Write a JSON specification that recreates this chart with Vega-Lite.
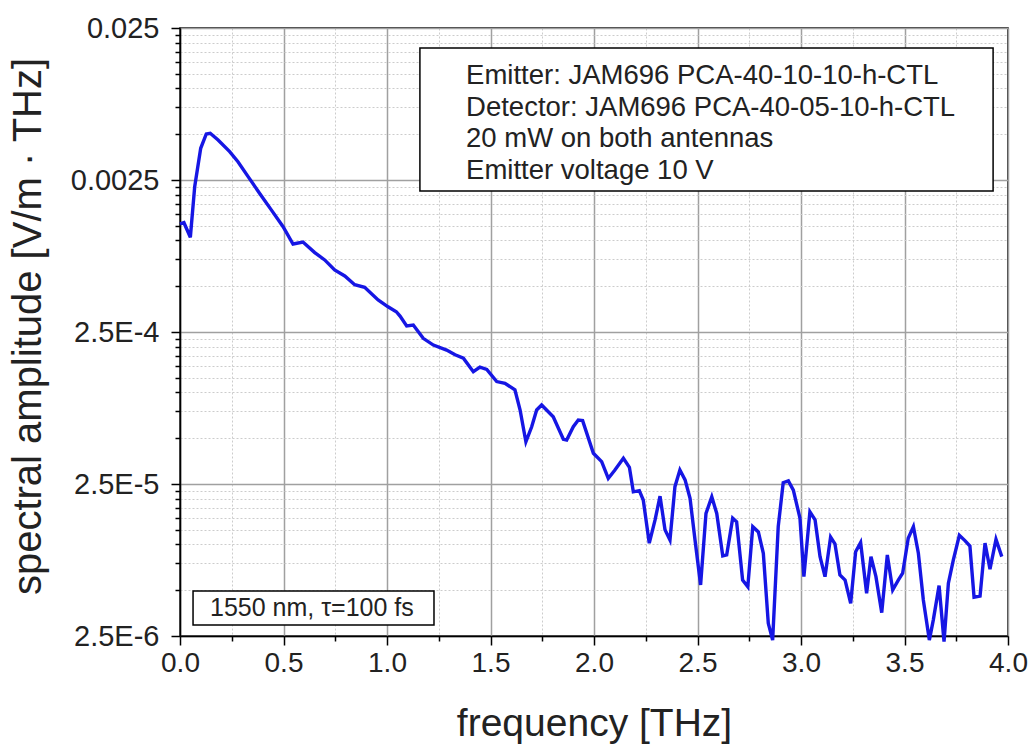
{
  "$schema": "https://vega.github.io/schema/vega-lite/v6.json",
  "width": 828,
  "height": 608,
  "autosize": "none",
  "padding": {"left": 180, "top": 28, "right": 25, "bottom": 111},
  "background": "white",
  "config": {
    "view": {"stroke": "black", "strokeWidth": 1.5},
    "font": "Liberation Sans"
  },
  "datasets": {
    "spectrum": [
      {"f": 0.0, "a": 0.001284}, {"f": 0.019, "a": 0.001309}, {"f": 0.05, "a": 0.00105}, {"f": 0.071, "a": 0.00226},
      {"f": 0.1, "a": 0.00404}, {"f": 0.127, "a": 0.00502}, {"f": 0.146, "a": 0.00507}, {"f": 0.184, "a": 0.00458},
      {"f": 0.24, "a": 0.00384}, {"f": 0.28, "a": 0.0033}, {"f": 0.329, "a": 0.00263}, {"f": 0.385, "a": 0.00204},
      {"f": 0.441, "a": 0.00159}, {"f": 0.498, "a": 0.001233}, {"f": 0.546, "a": 0.000948}, {"f": 0.594, "a": 0.000977},
      {"f": 0.651, "a": 0.000832}, {"f": 0.699, "a": 0.000745}, {"f": 0.747, "a": 0.00064}, {"f": 0.796, "a": 0.000584},
      {"f": 0.844, "a": 0.000512}, {"f": 0.892, "a": 0.000492}, {"f": 0.957, "a": 0.000406}, {"f": 1.005, "a": 0.000366},
      {"f": 1.045, "a": 0.00034}, {"f": 1.063, "a": 0.000318}, {"f": 1.095, "a": 0.000274}, {"f": 1.127, "a": 0.000278},
      {"f": 1.175, "a": 0.000227}, {"f": 1.224, "a": 0.000205}, {"f": 1.288, "a": 0.00019}, {"f": 1.329, "a": 0.000177},
      {"f": 1.369, "a": 0.000168}, {"f": 1.417, "a": 0.000137}, {"f": 1.449, "a": 0.000147}, {"f": 1.482, "a": 0.000142},
      {"f": 1.53, "a": 0.000118}, {"f": 1.57, "a": 0.000115}, {"f": 1.618, "a": 0.000104}, {"f": 1.643, "a": 0.0000767},
      {"f": 1.671, "a": 0.0000474}, {"f": 1.699, "a": 0.0000595}, {"f": 1.723, "a": 0.0000767}, {"f": 1.747, "a": 0.0000828},
      {"f": 1.803, "a": 0.0000693}, {"f": 1.852, "a": 0.0000492}, {"f": 1.868, "a": 0.0000486}, {"f": 1.9, "a": 0.0000595},
      {"f": 1.924, "a": 0.0000659}, {"f": 1.945, "a": 0.0000653}, {"f": 1.997, "a": 0.0000398}, {"f": 2.037, "a": 0.0000351},
      {"f": 2.069, "a": 0.0000272}, {"f": 2.101, "a": 0.0000309}, {"f": 2.142, "a": 0.0000369}, {"f": 2.171, "a": 0.0000322},
      {"f": 2.19, "a": 0.0000222}, {"f": 2.219, "a": 0.0000226}, {"f": 2.238, "a": 0.0000196}, {"f": 2.267, "a": 0.0000102},
      {"f": 2.295, "a": 0.0000145}, {"f": 2.319, "a": 0.0000208}, {"f": 2.343, "a": 0.0000125}, {"f": 2.367, "a": 0.0000107},
      {"f": 2.391, "a": 0.000024}, {"f": 2.415, "a": 0.0000309}, {"f": 2.44, "a": 0.0000266}, {"f": 2.464, "a": 0.0000201},
      {"f": 2.488, "a": 0.0000107}, {"f": 2.515, "a": 0.00000542}, {"f": 2.541, "a": 0.000016}, {"f": 2.569, "a": 0.0000206},
      {"f": 2.593, "a": 0.000016}, {"f": 2.622, "a": 0.0000084}, {"f": 2.641, "a": 0.00000853}, {"f": 2.67, "a": 0.0000149},
      {"f": 2.689, "a": 0.0000141}, {"f": 2.718, "a": 0.00000583}, {"f": 2.743, "a": 0.00000527}, {"f": 2.767, "a": 0.0000131},
      {"f": 2.794, "a": 0.0000121}, {"f": 2.818, "a": 0.00000875}, {"f": 2.842, "a": 0.00000303}, {"f": 2.863, "a": 0.00000235},
      {"f": 2.89, "a": 0.0000131}, {"f": 2.914, "a": 0.0000255}, {"f": 2.939, "a": 0.0000262}, {"f": 2.963, "a": 0.0000228},
      {"f": 2.995, "a": 0.0000149}, {"f": 3.014, "a": 0.00000615}, {"f": 3.043, "a": 0.0000164}, {"f": 3.068, "a": 0.0000145},
      {"f": 3.092, "a": 0.00000832}, {"f": 3.116, "a": 0.00000614}, {"f": 3.143, "a": 0.0000112}, {"f": 3.164, "a": 0.0000101},
      {"f": 3.188, "a": 0.0000063}, {"f": 3.213, "a": 0.00000583}, {"f": 3.24, "a": 0.0000041}, {"f": 3.264, "a": 0.00000897},
      {"f": 3.288, "a": 0.0000103}, {"f": 3.317, "a": 0.00000478}, {"f": 3.338, "a": 0.00000832}, {"f": 3.362, "a": 0.00000614},
      {"f": 3.39, "a": 0.00000356}, {"f": 3.417, "a": 0.00000853}, {"f": 3.443, "a": 0.00000502}, {"f": 3.47, "a": 0.00000583},
      {"f": 3.491, "a": 0.00000647}, {"f": 3.518, "a": 0.000011}, {"f": 3.543, "a": 0.0000131}, {"f": 3.567, "a": 0.00000875},
      {"f": 3.591, "a": 0.00000431}, {"f": 3.62, "a": 0.00000235}, {"f": 3.639, "a": 0.00000318}, {"f": 3.667, "a": 0.00000536},
      {"f": 3.691, "a": 0.0000023}, {"f": 3.712, "a": 0.00000556}, {"f": 3.736, "a": 0.00000791}, {"f": 3.765, "a": 0.0000115},
      {"f": 3.792, "a": 0.0000106}, {"f": 3.816, "a": 0.00000977}, {"f": 3.836, "a": 0.0000045}, {"f": 3.865, "a": 0.00000458},
      {"f": 3.889, "a": 0.0000102}, {"f": 3.913, "a": 0.00000687}, {"f": 3.942, "a": 0.0000108}, {"f": 3.97, "a": 0.00000832}
    ]
  },
  "layer": [
    {
      "data": {"name": "spectrum"},
      "mark": {"type": "line", "color": "#1616e4", "strokeWidth": 3.4, "clip": false},
      "encoding": {
        "x": {
          "field": "f", "type": "quantitative",
          "scale": {"domain": [0, 4], "nice": false, "zero": false},
          "axis": {
            "values": [0, 0.25, 0.5, 0.75, 1, 1.25, 1.5, 1.75, 2, 2.25, 2.5, 2.75, 3, 3.25, 3.5, 3.75, 4],
            "labelExpr": "datum.value % 0.5 == 0 ? format(datum.value, '.1f') : ''",
            "labelOverlap": false,
            "labelFlush": false,
            "tickSize": {"condition": {"test": "datum.value % 0.5 == 0", "value": 9}, "value": 5},
            "gridDash": {"condition": {"test": "datum.value % 0.5 == 0", "value": []}, "value": [2, 2]},
            "gridColor": {"condition": {"test": "datum.value % 0.5 == 0", "value": "#a0a0a0"}, "value": "#cccccc"},
            "gridWidth": {"condition": {"test": "datum.value % 0.5 == 0", "value": 1.5}, "value": 1},
            "gridOpacity": 1,
            "domainColor": "black", "domainWidth": 1.5,
            "tickColor": "black", "tickWidth": 1.5,
            "labelFontSize": 28, "labelColor": "#222222", "labelPadding": 4,
            "title": "frequency [THz]",
            "titleFontSize": 39, "titleFontWeight": "normal", "titleColor": "#222222", "titlePadding": 27
          }
        },
        "y": {
          "field": "a", "type": "quantitative",
          "scale": {"type": "log", "domain": [0.0000025, 0.025], "nice": false},
          "axis": {
            "values": [0.0000025, 0.000005, 0.0000075, 0.00001, 0.0000125, 0.000015, 0.0000175, 0.00002, 0.0000225,
                       0.000025, 0.00005, 0.000075, 0.0001, 0.000125, 0.00015, 0.000175, 0.0002, 0.000225,
                       0.00025, 0.0005, 0.00075, 0.001, 0.00125, 0.0015, 0.00175, 0.002, 0.00225,
                       0.0025, 0.005, 0.0075, 0.01, 0.0125, 0.015, 0.0175, 0.02, 0.0225, 0.025],
            "labelExpr": "abs(datum.value/0.025-1)<1e-6 ? '0.025' : abs(datum.value/0.0025-1)<1e-6 ? '0.0025' : abs(datum.value/0.00025-1)<1e-6 ? '2.5E-4' : abs(datum.value/0.000025-1)<1e-6 ? '2.5E-5' : abs(datum.value/0.0000025-1)<1e-6 ? '2.5E-6' : ''",
            "labelOverlap": false,
            "labelFlush": false,
            "tickSize": {"condition": {"test": "abs(log(datum.value/2.5)/LN10 - round(log(datum.value/2.5)/LN10)) < 0.001", "value": 9}, "value": 5},
            "gridDash": {"condition": {"test": "abs(log(datum.value/2.5)/LN10 - round(log(datum.value/2.5)/LN10)) < 0.001", "value": []}, "value": [2, 2]},
            "gridColor": {"condition": {"test": "abs(log(datum.value/2.5)/LN10 - round(log(datum.value/2.5)/LN10)) < 0.001", "value": "#a0a0a0"}, "value": "#cccccc"},
            "gridWidth": {"condition": {"test": "abs(log(datum.value/2.5)/LN10 - round(log(datum.value/2.5)/LN10)) < 0.001", "value": 1.5}, "value": 1},
            "gridOpacity": 1,
            "domainColor": "black", "domainWidth": 1.5,
            "tickColor": "black", "tickWidth": 1.5,
            "labelFontSize": 29, "labelColor": "#222222", "labelPadding": 12,
            "title": "spectral amplitude [V/m · THz]",
            "titleFontSize": 40, "titleFontWeight": "normal", "titleColor": "#222222", "titlePadding": 22,
            "titleY": 298
          }
        }
      }
    },
    {
      "data": {"values": [{}]},
      "mark": {"type": "rect", "fill": "white", "stroke": "black", "strokeWidth": 1.5},
      "encoding": {
        "x": {"datum": 1.159, "type": "quantitative"},
        "x2": {"datum": 3.928},
        "y": {"datum": 0.01846, "type": "quantitative"},
        "y2": {"datum": 0.002116}
      }
    },
    {
      "data": {"values": [{}]},
      "mark": {
        "type": "text", "align": "left", "baseline": "middle", "fontSize": 27.5, "lineHeight": 31.5, "color": "#222222",
        "text": ["Emitter: JAM696 PCA-40-10-10-h-CTL", "Detector: JAM696 PCA-40-05-10-h-CTL", "20 mW on both antennas", "Emitter voltage 10 V"]
      },
      "encoding": {
        "x": {"datum": 1.382, "type": "quantitative"},
        "y": {"datum": 0.01208, "type": "quantitative"}
      }
    },
    {
      "data": {"values": [{}]},
      "mark": {"type": "rect", "fill": "white", "stroke": "black", "strokeWidth": 1.5},
      "encoding": {
        "x": {"datum": 0.063, "type": "quantitative"},
        "x2": {"datum": 1.227},
        "y": {"datum": 0.00000494, "type": "quantitative"},
        "y2": {"datum": 0.00000295}
      }
    },
    {
      "data": {"values": [{}]},
      "mark": {"type": "text", "align": "left", "baseline": "middle", "fontSize": 25, "color": "#222222", "text": "1550 nm, τ=100 fs"},
      "encoding": {
        "x": {"datum": 0.145, "type": "quantitative"},
        "y": {"datum": 0.00000382, "type": "quantitative"}
      }
    }
  ]
}
